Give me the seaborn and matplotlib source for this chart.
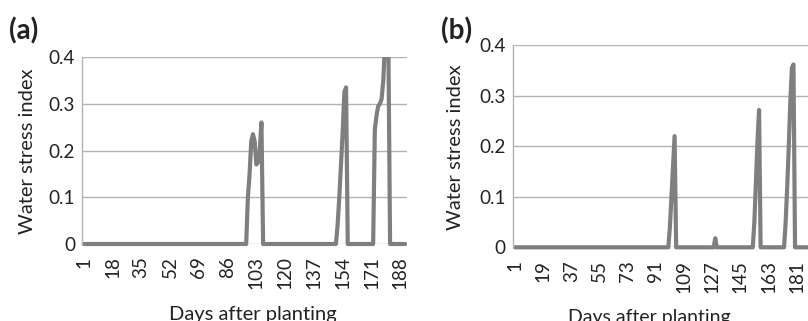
import numpy as np
import pandas as pd
import matplotlib
matplotlib.use("Agg")
import matplotlib.pyplot as plt
import seaborn as sns
from matplotlib.transforms import Bbox, TransformedBbox

# ---------------- data ----------------
days_a = list(range(1, 192))
stress_a_nonzero = {
    98: 0.10, 99: 0.15, 100: 0.22, 101: 0.235, 102: 0.22, 103: 0.17,
    104: 0.175, 105: 0.20, 106: 0.26, 107: 0.0,
    151: 0.04, 152: 0.10, 153: 0.17, 154: 0.24, 155: 0.325, 156: 0.335,
    173: 0.245, 174: 0.275, 175: 0.295, 176: 0.30, 177: 0.31, 178: 0.35,
    179: 0.43, 180: 0.46, 181: 0.43,
}
stress_a = [stress_a_nonzero.get(d, 0.0) for d in days_a]

days_b = list(range(1, 206))
stress_b_nonzero = {
    100: 0.04, 101: 0.10, 102: 0.16, 103: 0.22,
    129: 0.018,
    154: 0.05, 155: 0.13, 156: 0.21, 157: 0.272,
    174: 0.05, 175: 0.12, 176: 0.20, 177: 0.29, 178: 0.355, 179: 0.362,
}
stress_b = [stress_b_nonzero.get(d, 0.0) for d in days_b]

ticks_a = [1, 18, 35, 52, 69, 86, 103, 120, 137, 154, 171, 188]
ticks_b = [1, 19, 37, 55, 73, 91, 109, 127, 145, 163, 181, 199]
yticks = [0, 0.1, 0.2, 0.3, 0.4]
ytick_labels = ["0", "0.1", "0.2", "0.3", "0.4"]

panel_labels = ["(a)", "(b)"]
xlabel = "Days after planting"
ylabel = "Water stress index"

# ---------------- style ----------------
sns.set_theme(style="white")
plt.rcParams["font.family"] = ["Lato", "DejaVu Sans"]

W, H = 808, 321
fig = plt.figure(figsize=(W / 100, H / 100), dpi=100)

LINE_C = "#7f7f80"
GRID_C = "#b3b3b3"


def px_axes(left, top, right, bottom):
    return fig.add_axes([left / W, 1 - bottom / H, (right - left) / W, (bottom - top) / H])


def draw(ax, days, vals, ticks, xlim, tick_pad):
    df = pd.DataFrame({"day": days, "stress": vals})
    sns.lineplot(data=df, x="day", y="stress", ax=ax, color=LINE_C, linewidth=3.0)
    line = ax.lines[0]
    line.set_solid_joinstyle("round")
    line.set_solid_capstyle("round")
    ax.set_xlim(*xlim)
    ax.set_ylim(0, 0.4)
    ax.set_yticks(yticks)
    ax.set_yticklabels(ytick_labels)
    ax.set_xticks(ticks)
    ax.set_xticklabels([str(t) for t in ticks], rotation=90)
    ax.grid(axis="y", color=GRID_C, linewidth=1.0)
    ax.grid(axis="x", visible=False)
    ax.set_axisbelow(True)
    for s in ["top", "right", "bottom"]:
        ax.spines[s].set_visible(False)
    ax.spines["left"].set_color(GRID_C)
    ax.spines["left"].set_linewidth(1.0)
    ax.tick_params(axis="y", length=0, pad=5, labelsize=13.6, labelcolor="#222222")
    ax.tick_params(axis="x", length=0, pad=tick_pad, labelsize=13.6, labelcolor="#222222")
    ax.set_xlabel("")
    ax.set_ylabel("")
    ax.patch.set_alpha(0)
    clip = TransformedBbox(Bbox([[-0.01, -0.1], [1.0, 1.0]]), ax.transAxes)
    line.set_clip_box(clip)


ax_a = px_axes(82, 57, 407, 244)
draw(ax_a, days_a, stress_a, ticks_a, (0.0, 192.0), 9.0)

ax_b = px_axes(512.7, 45.3, 835.7, 247.3)
draw(ax_b, days_b, stress_b, ticks_b, (-0.5, 206.0), 9.5)

# labels
fig.text(9 / W, 1 - 31 / H, panel_labels[0], ha="left", va="center",
         fontsize=20, fontweight="bold", color="#222222")
fig.text(441 / W, 1 - 31 / H, panel_labels[1], ha="left", va="center",
         fontsize=20, fontweight="bold", color="#222222")

fig.text(27.5 / W, 1 - 151 / H, ylabel, rotation=90, ha="center", va="center",
         fontsize=14.5, color="#222222")
fig.text(455.5 / W, 1 - 147.5 / H, ylabel, rotation=90, ha="center", va="center",
         fontsize=14.5, color="#222222")

fig.text(253 / W, 1 - 320 / H, xlabel, ha="center", va="baseline",
         fontsize=14.5, color="#222222")
fig.text(649 / W, 1 - 322.5 / H, xlabel, ha="center", va="baseline",
         fontsize=14.0, color="#222222")

fig.savefig("out.png", dpi=100)
